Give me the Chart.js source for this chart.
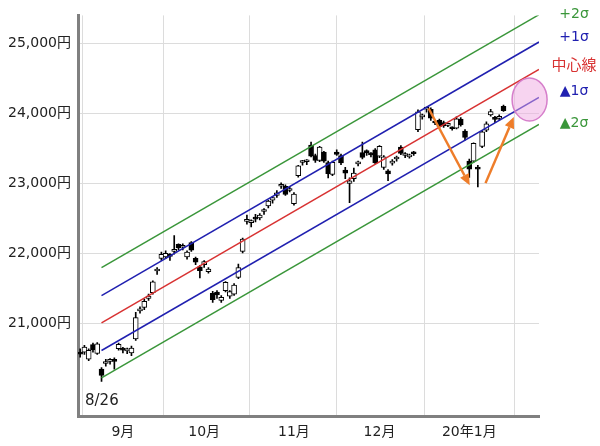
<!DOCTYPE html>
<html lang="ja">
<head>
<meta charset="UTF-8">
<title>日経平均 トレンドチャネル</title>
<script src="https://cdn.jsdelivr.net/npm/chart.js"></script>
<style>
    body { margin: 0; background: #fff; }
    #wrap { width: 600px; height: 446px; }
</style>
</head>
<body>
<div id="wrap"><canvas id="myCandleChart"></canvas></div>
<script>
// trading days, 8/19 .. 20/1/17
var dates = ['8/19','8/20','8/21','8/22','8/23','8/26','8/27','8/28','8/29','8/30',
    '9/2','9/3','9/4','9/5','9/6','9/9','9/10','9/11','9/12','9/13',
    '9/17','9/18','9/19','9/20','9/24','9/25','9/26','9/27','9/30',
    '10/1','10/2','10/3','10/4','10/7','10/8','10/9','10/10','10/11','10/15',
    '10/16','10/17','10/18','10/21','10/23','10/24','10/25','10/28','10/29','10/30','10/31',
    '11/1','11/5','11/6','11/7','11/8','11/11','11/12','11/13','11/14','11/15',
    '11/18','11/19','11/20','11/21','11/22','11/25','11/26','11/27','11/28','11/29',
    '12/2','12/3','12/4','12/5','12/6','12/9','12/10','12/11','12/12','12/13',
    '12/16','12/17','12/18','12/19','12/20','12/23','12/24','12/25','12/26','12/27','12/30',
    '1/6','1/7','1/8','1/9','1/10','1/14','1/15','1/16','1/17'];

var opens = [20590,20590,20490,20700,20575,20350,20430,20460,20490,20640,
    20630,20610,20580,20780,21180,21230,21360,21440,21750,21930,
    21950,21990,22030,22130,22090,21950,22157,21930,21810,
    21840,21740,21430,21450,21330,21470,21390,21420,21660,22030,
    22460,22440,22520,22510,22600,22680,22760,22830,22960,22960,22900,
    22710,23110,23300,23310,23550,23400,23330,23450,23300,23130,
    23450,23400,23190,23000,23070,23280,23440,23470,23410,23480,
    23390,23230,23180,23290,23350,23520,23400,23380,23450,23770,
    23950,24060,24060,23870,23900,23870,23830,23790,23790,23920,23750,
    23320,23320,23217,23530,23760,23980,23920,23930,24100];

var highs = [20640,20690,20640,20720,20730,20370,20490,20500,20510,20720,
    20660,20650,20680,21160,21240,21350,21420,21610,21800,22020,
    22040,22000,22255,22140,22140,22040,22170,21950,21830,
    21900,21800,21460,21470,21400,21600,21470,21570,21850,22220,
    22550,22480,22560,22570,22640,22760,22810,22900,23010,22980,22960,
    22870,23260,23330,23340,23590,23420,23530,23460,23320,23320,
    23480,23420,23230,23080,23220,23320,23590,23480,23440,23500,
    23540,23400,23200,23340,23390,23540,23440,23420,23460,24050,
    23990,24090,24080,23900,23920,23890,23860,23810,23950,23940,23770,
    23350,23580,23260,23760,23880,24060,23960,23980,24120];

var lows = [20520,20560,20470,20590,20560,20173,20390,20420,20350,20620,
    20580,20570,20540,20760,21150,21200,21330,21420,21700,21900,
    21930,21900,21990,22050,22050,21920,22030,21840,21650,
    21800,21720,21300,21360,21300,21450,21360,21400,21640,22010,
    22420,22380,22450,22480,22560,22650,22720,22800,22930,22830,22880,
    22690,23090,23260,23270,23380,23300,23310,23300,23080,23110,
    23400,23270,23070,22726,23030,23250,23350,23400,23380,23280,
    23370,23200,23040,23260,23320,23410,23370,23360,23400,23740,
    23920,24020,23900,23840,23790,23800,23810,23760,23780,23820,23620,
    23085,23300,22951,23510,23740,23960,23870,23900,24030];

var closes = [20563,20665,20618,20628,20710,20261,20456,20479,20460,20704,
    20620,20625,20649,21085,21199,21318,21392,21597,21759,21988,
    22001,21960,22044,22079,22098,22020,22048,21878,21756,
    21885,21778,21341,21410,21375,21587,21456,21551,21798,22207,
    22472,22451,22492,22548,22625,22750,22799,22867,22974,22843,22927,
    22850,23251,23303,23330,23391,23331,23520,23319,23141,23303,
    23416,23292,23148,23038,23150,23292,23373,23437,23409,23293,
    23529,23379,23135,23300,23354,23430,23410,23391,23424,24023,
    23952,24066,23934,23864,23816,23821,23830,23782,23924,23837,23656,
    23204,23575,23204,23739,23850,24025,23916,23933,24041];

// month gridlines (index into dates) and their labels
var monthIdx = [10, 29, 50, 70, 91];
var monthLabels = ['9月', '10月', '11月', '12月', '20年1月'];

// y tick values
var yTicks = [21000, 22000, 23000, 24000, 25000];

// trend channel: from 8/26 (index 5) to the right edge
var channelX = [5, 107.3];
var plus2 = [21800, 25410];
var plus1 = [21400, 25020];
var center = [21010, 24630];
var minus1 = [20615, 24230];
var minus2 = [20225, 23845];

// annotations (index, price)
var arrowDown = [[81.5, 24071], [91.1, 22976]];
var arrowUp = [[94.8, 23005], [101.4, 23948]];
var circleAt = [105.1, 24200];

var GREEN = '#3a963a';
var BLUE = '#2020b0';
var RED = '#d83232';

function fmtYen(v) {
    return String(v).replace(/\B(?=(\d{3})+(?!\d))/g, ',') + '円';
}

function lineSet(label, vals, color) {
    return {
        type: 'line',
        label: label,
        data: channelX.map((x, i) => ({ x: x, y: vals[i] })),
        borderColor: color,
        borderWidth: 1.5,
        pointRadius: 0,
        fill: false,
        order: 0
    };
}

function drawArrow(ctx, x1, y1, x2, y2) {
    var ang = Math.atan2(y2 - y1, x2 - x1);
    var head = 11, half = 5;
    var bx = x2 - head * Math.cos(ang), by = y2 - head * Math.sin(ang);
    ctx.beginPath();
    ctx.moveTo(x1, y1);
    ctx.lineTo(bx, by);
    ctx.stroke();
    ctx.beginPath();
    ctx.moveTo(x2, y2);
    ctx.lineTo(bx + half * Math.sin(ang), by - half * Math.cos(ang));
    ctx.lineTo(bx - half * Math.sin(ang), by + half * Math.cos(ang));
    ctx.closePath();
    ctx.fill();
}

var notes = {
    id: 'notes',
    afterDatasetsDraw(chart) {
        var ctx = chart.ctx, xs = chart.scales.x, ys = chart.scales.y;
        ctx.save();
        // pink circle
        ctx.beginPath();
        ctx.ellipse(xs.getPixelForValue(circleAt[0]), ys.getPixelForValue(circleAt[1]), 17.5, 21.5, 0, 0, Math.PI * 2);
        ctx.fillStyle = 'rgba(240,170,225,0.5)';
        ctx.fill();
        ctx.strokeStyle = '#d67fcb';
        ctx.lineWidth = 1.5;
        ctx.stroke();
        // orange arrows
        ctx.strokeStyle = '#ee7d2a';
        ctx.fillStyle = '#ee7d2a';
        ctx.lineWidth = 2.5;
        [arrowDown, arrowUp].forEach(a => {
            drawArrow(ctx, xs.getPixelForValue(a[0][0]), ys.getPixelForValue(a[0][1]),
                xs.getPixelForValue(a[1][0]), ys.getPixelForValue(a[1][1]));
        });
        ctx.restore();
    },
    afterDraw(chart) {
        var ctx = chart.ctx;
        ctx.save();
        ctx.textBaseline = 'middle';
        ctx.fillStyle = '#222';
        ctx.font = '15px "DejaVu Sans"';
        ctx.textAlign = 'left';
        ctx.fillText('8/26', 85, 401);
        ctx.textAlign = 'center';
        var tags = [
            ['+2σ', GREEN, 14, '14px "DejaVu Sans"'],
            ['+1σ', BLUE, 37, '14px "DejaVu Sans"'],
            ['中心線', RED, 64, '15px "Noto Sans CJK JP"'],
            ['▲1σ', BLUE, 91, '14px "DejaVu Sans"'],
            ['▲2σ', GREEN, 123, '14px "DejaVu Sans"']
        ];
        tags.forEach(t => {
            ctx.fillStyle = t[1];
            ctx.font = t[3];
            ctx.fillText(t[0], 574, t[2]);
        });
        ctx.restore();
    }
};

var ctxCandle = document.getElementById('myCandleChart').getContext('2d');
var myCandleChart = new Chart(ctxCandle, {
    type: 'bar',
    data: {
        datasets: [
            lineSet('+2σ', plus2, GREEN),
            lineSet('+1σ', plus1, BLUE),
            lineSet('中心線', center, RED),
            lineSet('▲1σ', minus1, BLUE),
            lineSet('▲2σ', minus2, GREEN),
            {
                label: 'body',
                data: dates.map((d, i) => ({ x: i, y: [opens[i], closes[i]] })),
                backgroundColor: c => closes[c.dataIndex] >= opens[c.dataIndex] ? '#fff' : '#000',
                borderColor: '#000',
                borderWidth: 1,
                borderSkipped: false,
                barThickness: 5,
                minBarLength: 2,
                grouped: false,
                order: 1
            },
            {
                label: 'wick',
                data: dates.map((d, i) => ({ x: i, y: [lows[i], highs[i]] })),
                backgroundColor: '#000',
                borderWidth: 0,
                barThickness: 1,
                grouped: false,
                order: 2
            }
        ]
    },
    options: {
        responsive: true,
        maintainAspectRatio: false,
        animation: false,
        layout: { padding: { top: 15, right: 61, left: 0, bottom: 0 } },
        plugins: {
            legend: { display: false },
            tooltip: { enabled: false }
        },
        scales: {
            x: {
                type: 'linear',
                min: -0.5,
                max: 107.3,
                offset: false,
                afterBuildTicks: s => { s.ticks = monthIdx.map(v => ({ value: v })); },
                afterFit: s => { s.height = 30; },
                ticks: {
                    callback: v => monthLabels[monthIdx.indexOf(v)],
                    font: { family: '"DejaVu Sans", "Noto Sans CJK JP"', size: 14 },
                    color: '#222',
                    padding: 8,
                    maxRotation: 0
                },
                grid: { color: '#dcdcdc', lineWidth: 1, drawTicks: false },
                border: { color: '#808080', width: 3 }
            },
            y: {
                type: 'linear',
                min: 19680,
                max: 25400,
                afterBuildTicks: s => { s.ticks = yTicks.map(v => ({ value: v })); },
                afterFit: s => { s.width = 78; },
                ticks: {
                    callback: v => fmtYen(v),
                    font: { family: '"DejaVu Sans", "Noto Sans CJK JP"', size: 14 },
                    color: '#222',
                    padding: 7
                },
                grid: { color: '#dcdcdc', lineWidth: 1, drawTicks: false },
                border: { color: '#808080', width: 3 }
            }
        }
    },
    plugins: [notes]
});
</script>
</body>
</html>
